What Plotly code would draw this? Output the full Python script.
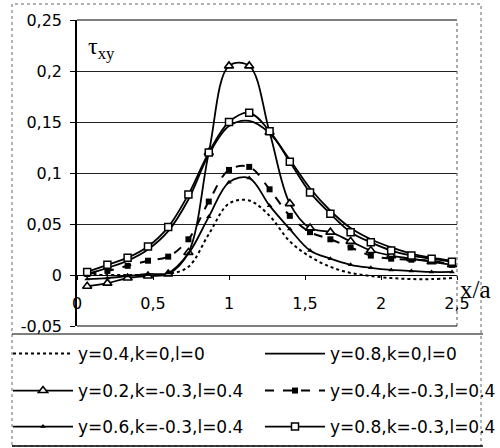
import plotly.graph_objects as go

# ---- data ----
X = [0.067, 0.2, 0.333, 0.467, 0.6, 0.733, 0.867, 1.0, 1.133, 1.267,
     1.4, 1.533, 1.667, 1.8, 1.933, 2.067, 2.2, 2.333, 2.467]

S_Y04_K0 = [0.0, 0.0, 0.0, 0.0, 0.001, 0.008, 0.04, 0.07, 0.073, 0.058,
            0.033, 0.018, 0.008, 0.002, -0.001, -0.003, -0.004, -0.004, -0.003]
S_Y08_K0 = [0.001, 0.007, 0.014, 0.025, 0.043, 0.074, 0.118, 0.146, 0.151, 0.139,
            0.113, 0.085, 0.063, 0.046, 0.035, 0.027, 0.021, 0.017, 0.014]
S_Y02_K03 = [-0.011, -0.008, -0.003, -0.001, 0.001, 0.022, 0.12, 0.205, 0.205, 0.14,
             0.07, 0.046, 0.042, 0.033, 0.024, 0.019, 0.016, 0.013, 0.01]
S_Y04_K03 = [0.001, 0.004, 0.009, 0.014, 0.018, 0.035, 0.072, 0.103, 0.106, 0.084,
             0.058, 0.042, 0.035, 0.027, 0.019, 0.016, 0.015, 0.014, 0.01]
S_Y06_K03 = [-0.004, -0.003, -0.001, 0.001, 0.002, 0.021, 0.057, 0.091, 0.095, 0.068,
             0.045, 0.024, 0.016, 0.01, 0.007, 0.005, 0.004, 0.003, 0.003]
S_Y08_K03 = [0.003, 0.01, 0.017, 0.028, 0.047, 0.079, 0.12, 0.15, 0.159, 0.141,
             0.111, 0.081, 0.06, 0.042, 0.032, 0.024, 0.019, 0.016, 0.013]

NAMES = ["y=0.4,k=0,l=0", "y=0.8,k=0,l=0",
         "y=0.2,k=-0.3,l=0.4", "y=0.4,k=-0.3,l=0.4",
         "y=0.6,k=-0.3,l=0.4", "y=0.8,k=-0.3,l=0.4"]

X_TICKS = [0, 0.5, 1, 1.5, 2, 2.5]
X_TICK_LABELS = ["0", "0,5", "1", "1,5", "2", "2,5"]
Y_TICKS = [-0.05, 0, 0.05, 0.1, 0.15, 0.2, 0.25]
Y_TICK_LABELS = ["-0,05", "0", "0,05", "0,1", "0,15", "0,2", "0,25"]

FONT = "DejaVu Sans"

# plot area in pixels: left 77, right 457, top 20, bottom 326
PL, PR, PT, PB = 77, 457, 20, 326
PW, PH = PR - PL, PB - PT


def px(xp):
    return (xp - PL) / PW


def py(yp):
    return (PB - yp) / PH


fig = go.Figure()

fig.add_trace(go.Scatter(x=X, y=S_Y04_K0, name=NAMES[0], mode="lines",
                         line=dict(color="black", width=2, dash="dot", shape="spline"),
                         legend="legend"))
fig.add_trace(go.Scatter(x=X, y=S_Y08_K0, name=NAMES[1], mode="lines",
                         line=dict(color="black", width=1.8, shape="spline"),
                         legend="legend2"))
fig.add_trace(go.Scatter(x=X, y=S_Y02_K03, name=NAMES[2], mode="lines+markers",
                         line=dict(color="black", width=1.8, shape="spline"),
                         marker=dict(symbol="triangle-up", size=8, color="white",
                                     line=dict(color="black", width=1.6)),
                         legend="legend3"))
fig.add_trace(go.Scatter(x=X, y=S_Y04_K03, name=NAMES[3], mode="lines+markers",
                         line=dict(color="black", width=2, dash="dash", shape="spline"),
                         marker=dict(symbol="square", size=6, color="black"),
                         legend="legend4"))
fig.add_trace(go.Scatter(x=X, y=S_Y06_K03, name=NAMES[4], mode="lines+markers",
                         line=dict(color="black", width=1.8, shape="spline"),
                         marker=dict(symbol="triangle-up", size=5, color="black"),
                         legend="legend5"))
fig.add_trace(go.Scatter(x=X, y=S_Y08_K03, name=NAMES[5], mode="lines+markers",
                         line=dict(color="black", width=1.8, shape="spline"),
                         marker=dict(symbol="square", size=7, color="white",
                                     line=dict(color="black", width=1.5)),
                         legend="legend6"))

leg_common = dict(orientation="v", xanchor="left", yanchor="middle", itemwidth=60,
                  font=dict(family=FONT, size=17, color="black"),
                  bgcolor="rgba(0,0,0,0)", borderwidth=0)

COL1_X = px(8)
COL2_X = px(260)
ROW_Y = [py(354), py(391), py(427)]

fig.update_layout(
    width=500, height=448,
    margin=dict(l=PL, r=500 - PR, t=PT, b=448 - PB, autoexpand=False),
    paper_bgcolor="white", plot_bgcolor="white",
    font=dict(family=FONT, size=16, color="black"),
    showlegend=True,
    legend=dict(x=COL1_X, y=ROW_Y[0], **leg_common),
    legend2=dict(x=COL2_X, y=ROW_Y[0], **leg_common),
    legend3=dict(x=COL1_X, y=ROW_Y[1], **leg_common),
    legend4=dict(x=COL2_X, y=ROW_Y[1], **leg_common),
    legend5=dict(x=COL1_X, y=ROW_Y[2], **leg_common),
    legend6=dict(x=COL2_X, y=ROW_Y[2], **leg_common),
)

fig.update_xaxes(range=[0, 2.5], tickvals=X_TICKS, ticktext=X_TICK_LABELS,
                 showgrid=False, zeroline=False, showline=True, linecolor="black",
                 linewidth=1, anchor="free", position=0.05 / 0.3,
                 ticks="outside", ticklen=4, tickcolor="black",
                 ticklabelstandoff=10,
                 tickfont=dict(family=FONT, size=16))
fig.update_yaxes(range=[-0.05, 0.25], tickvals=Y_TICKS, ticktext=Y_TICK_LABELS,
                 showgrid=True, gridcolor="#222", gridwidth=1, zeroline=False,
                 showline=True, linecolor="black", linewidth=1.5,
                 ticks="outside", ticklen=5, tickcolor="black",
                 ticklabelstandoff=5,
                 tickfont=dict(family=FONT, size=16))

# frame lines
fig.add_shape(type="line", xref="paper", yref="paper", x0=1, x1=1, y0=0, y1=1,
              line=dict(color="#555", width=1, dash="dot"))
fig.add_shape(type="line", xref="paper", yref="paper", x0=0, x1=1, y0=0, y1=0,
              line=dict(color="black", width=1.2))
fig.add_shape(type="line", xref="paper", yref="paper", x0=0, x1=1, y0=1, y1=1,
              line=dict(color="black", width=1.2))
fig.add_shape(type="rect", xref="paper", yref="paper",
              x0=px(12), x1=px(481), y0=py(446), y1=py(4),
              line=dict(color="#666", width=1, dash="dot"))
fig.add_shape(type="line", xref="paper", yref="paper",
              x0=px(12), x1=px(483), y0=py(334), y1=py(334),
              line=dict(color="black", width=1.2))
fig.add_shape(type="line", xref="paper", yref="paper",
              x0=px(12), x1=px(483), y0=py(446), y1=py(446),
              line=dict(color="black", width=1.5))

fig.add_annotation(text="τ<sub>xy</sub>", xref="paper", yref="paper",
                   x=px(86), y=py(48), xanchor="left", yanchor="middle",
                   showarrow=False, font=dict(family="Liberation Serif", size=24, color="black"))
fig.add_annotation(text="x/a", xref="paper", yref="paper",
                   x=px(458), y=py(289), xanchor="left", yanchor="middle",
                   showarrow=False, font=dict(family="Liberation Serif", size=25, color="black"))

fig.write_html("out.html", config={"displayModeBar": False},
               post_script="document.body.style.margin='0';")
